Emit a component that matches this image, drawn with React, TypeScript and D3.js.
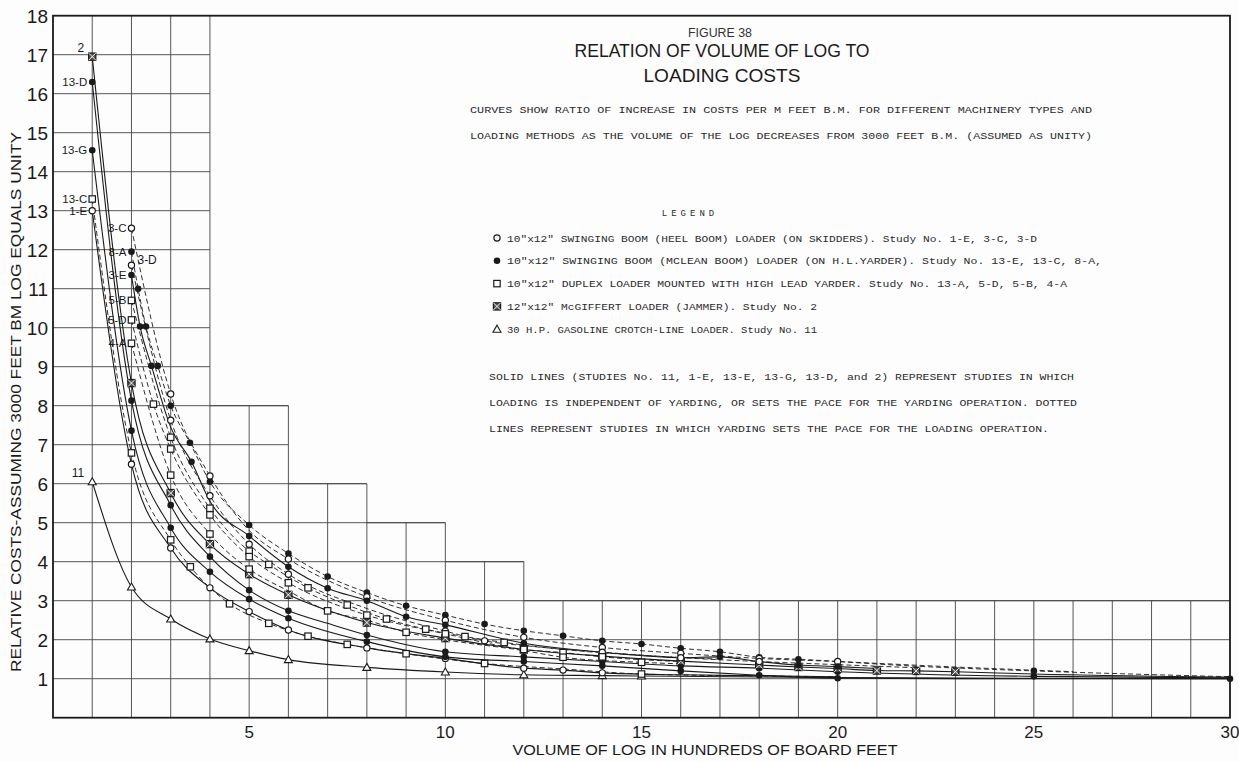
import React from "react";
import * as d3 from "d3";

// ---------- DATA ----------
const yTickLabels = [1, 2, 3, 4, 5, 6, 7, 8, 9, 10, 11, 12, 13, 14, 15, 16, 17, 18];
const xTickLabels = [5, 10, 15, 20, 25, 30];

// staircase grid: [x from, x to, top of grid]
const gridSteps: [number, number, number][] = [
  [0, 4, 18],
  [4, 6, 8],
  [6, 8, 6],
  [8, 10, 5],
  [10, 12, 4],
  [12, 30, 3],
];

// [x, value, marker(1)/no marker(0)]
const s11 = [[1, 6.05, 1], [2, 3.35, 1], [3, 2.53, 1], [4, 2.02, 1], [5, 1.72, 1], [6, 1.49, 1], [8, 1.29, 1], [10, 1.17, 1], [12, 1.1, 1], [14, 1.08, 1], [15, 1.07, 1], [20, 1.03, 0], [25, 1.01, 0], [30, 1.0, 0]];
const s1E = [[1, 13.0, 1], [2, 6.5, 1], [3, 4.35, 1], [4, 3.33, 1], [5, 2.72, 1], [6, 2.25, 1], [8, 1.79, 1], [10, 1.52, 1], [12, 1.27, 1], [13, 1.22, 1], [14, 1.15, 1], [16, 1.1, 0], [20, 1.05, 0]];
const s13C = [[1, 13.3, 1], [2, 6.79, 1], [3, 4.56, 1], [3.5, 3.87, 1], [4.5, 2.92, 1], [5.5, 2.42, 1], [6.5, 2.09, 1], [7.5, 1.88, 1], [9, 1.64, 1], [11, 1.39, 1], [13, 1.25, 0], [15, 1.12, 1], [18, 1.07, 0], [20, 1.05, 0]];
const s13G = [[1, 14.55, 1], [2, 7.36, 1], [3, 4.87, 1], [4, 3.74, 1], [5, 3.04, 1], [6, 2.55, 1], [8, 1.95, 1], [10, 1.56, 1], [12, 1.44, 1], [14, 1.33, 1], [16, 1.2, 1], [18, 1.09, 1], [20, 1.01, 1], [25, 1.0, 0], [30, 1.0, 1]];
const s13D = [[1, 16.3, 1], [2, 8.13, 1], [3, 5.45, 1], [4, 4.13, 1], [5, 3.27, 1], [6, 2.74, 1], [7, 2.42, 0], [8, 2.12, 1], [10, 1.69, 1], [12, 1.56, 1], [14, 1.44, 1], [16, 1.33, 1], [18, 1.27, 1], [20, 1.18, 1], [25, 1.06, 1], [30, 1.02, 0]];
const s2 = [[1, 16.95, 1], [2, 8.58, 1], [3, 5.76, 1], [4, 4.45, 1], [5, 3.68, 1], [6, 3.15, 1], [8, 2.44, 1], [10, 2.04, 1], [12, 1.75, 1], [14, 1.58, 1], [16, 1.45, 1], [18, 1.35, 1], [19, 1.3, 1], [20, 1.26, 1], [21, 1.21, 1], [22, 1.2, 1], [23, 1.18, 1], [25, 1.12, 0], [30, 1.04, 0]];
const s8A = [[2, 11.95, 1], [2.17, 11.0, 1], [2.37, 10.03, 1], [2.67, 9.02, 1], [3, 8.0, 1], [3.49, 7.05, 1], [4, 6.05, 1], [5, 4.94, 1], [6, 4.21, 1], [7, 3.62, 1], [8, 3.21, 1], [9, 2.87, 1], [10, 2.63, 1], [11, 2.4, 1], [12, 2.23, 1], [13, 2.1, 1], [14, 1.97, 1], [15, 1.89, 1], [16, 1.78, 1], [17, 1.69, 1], [18, 1.55, 1], [19, 1.5, 1], [22, 1.32, 0], [25, 1.2, 1], [30, 1.05, 0]];
const s3C = [[2, 12.55, 1], [3, 8.3, 1], [4, 6.2, 1], [5, 4.8, 0], [6, 4.07, 1], [8, 3.1, 1], [10, 2.5, 1], [12, 2.06, 1], [14, 1.8, 1], [16, 1.65, 1], [18, 1.52, 1], [20, 1.44, 1], [23, 1.3, 0], [26, 1.18, 0]];
const s3D = [[2, 11.6, 1], [3, 7.63, 1], [4, 5.69, 1], [5, 4.45, 1], [6, 3.68, 1], [8, 2.8, 0], [10, 2.22, 1], [11, 1.97, 1], [12, 1.85, 0], [14, 1.68, 1], [16, 1.54, 1], [18, 1.44, 1], [20, 1.36, 0], [22, 1.28, 0]];
const s3E = [[2, 11.35, 1], [2.22, 10.03, 1], [2.51, 9.02, 1], [3, 7.45, 0], [3.53, 6.56, 1], [4, 5.55, 0], [5, 4.66, 1], [6, 3.87, 1], [7, 3.32, 1], [8, 3.0, 1], [9, 2.59, 1], [10, 2.38, 1], [12, 1.91, 1], [14, 1.68, 0], [16, 1.54, 0], [17, 1.56, 1], [18, 1.44, 0], [19, 1.35, 1], [20, 1.31, 1], [21, 1.26, 0]];
const s5B = [[2, 10.7, 1], [3, 7.19, 1], [4, 5.37, 1], [5, 4.27, 1], [5.5, 3.93, 1], [6.5, 3.33, 1], [7.5, 2.89, 1], [8.5, 2.53, 1], [9.5, 2.27, 1], [10.5, 2.08, 1], [11.5, 1.93, 1], [13, 1.75, 0], [15, 1.6, 0], [17, 1.5, 0]];
const s5D = [[2, 10.2, 1], [2.56, 8.04, 1], [3, 6.89, 1], [4, 5.2, 1], [5, 4.13, 1], [6, 3.46, 1], [8, 2.63, 1], [10, 2.15, 1], [12, 1.75, 1], [13, 1.67, 1], [14, 1.56, 1], [16, 1.44, 0]];
const s4A = [[2, 9.6, 1], [3, 6.22, 1], [4, 4.71, 1], [5, 3.81, 1], [6, 3.25, 0], [7, 2.74, 1], [8, 2.5, 0], [9, 2.19, 1], [10, 2.0, 0], [12, 1.72, 0], [13, 1.55, 1], [15, 1.42, 1], [16, 1.38, 0]];

const studyData = [s11, s1E, s13C, s13G, s13D, s2, s8A, s3C, s3D, s3E, s5B, s5D, s4A];
const studyMarker = ["tri", "open", "sq", "fill", "fill", "xsq", "fill", "open", "open", "fill", "sq", "sq", "sq"];
const studyDashed = [false, false, true, false, false, false, true, true, true, false, true, true, true];
const studyLabelSide = ["ul", "l", "l", "l", "l", "ul", "l", "l", "r", "l", "l", "l", "l"];
const studyLabelText = ["11", "1-E", "13-C", "13-G", "13-D", "2", "8-A", "3-C", "3-D", "3-E", "5-B", "5-D", "4-A"];

const legendMarkers = ["open", "fill", "sq", "xsq", "tri"];
const legendTexts = [
  '10"x12" SWINGING BOOM (HEEL BOOM) LOADER (ON SKIDDERS).  Study No. 1-E, 3-C, 3-D',
  '10"x12" SWINGING BOOM (MCLEAN BOOM) LOADER (ON H.L.YARDER).  Study No. 13-E, 13-C, 8-A,',
  '10"x12" DUPLEX LOADER MOUNTED WITH HIGH LEAD YARDER.  Study No. 13-A, 5-D, 5-B, 4-A',
  '12"x12" McGIFFERT LOADER (JAMMER).  Study No. 2',
  "30 H.P. GASOLINE CROTCH-LINE LOADER.  Study No. 11",
];
const legendWidths = [530, 595, 560, 310, 310];

const noteLines = [
  "CURVES SHOW RATIO OF INCREASE IN COSTS PER M FEET B.M.  FOR DIFFERENT MACHINERY TYPES AND",
  "LOADING METHODS AS THE VOLUME OF THE LOG DECREASES FROM 3000 FEET B.M. (ASSUMED AS UNITY)",
];
const solidNote = [
  "SOLID LINES (STUDIES No. 11, 1-E, 13-E, 13-G, 13-D, and 2) REPRESENT STUDIES IN WHICH",
  "LOADING IS INDEPENDENT OF YARDING, OR SETS THE PACE FOR THE YARDING OPERATION.  DOTTED",
  "LINES REPRESENT STUDIES IN WHICH YARDING SETS THE PACE FOR THE LOADING OPERATION.",
];

// ---------- LAYOUT ----------
const W = 1239;
const H = 762;
const L = 53, R = 1230, T = 15.7, B = 717.7;
const INK = "#1a1a1a";
const SANS = "'Liberation Sans', Arial, sans-serif";
const MONO = "'Liberation Mono', 'DejaVu Sans Mono', monospace";

const x = d3.scaleLinear().domain([0, 30]).range([L, R]);
const y = d3.scaleLinear().domain([0, 18]).range([B, T]);

function Marker({ kind, cx, cy }: { kind: string; cx: number; cy: number }) {
  if (kind === "open") return <circle cx={cx} cy={cy} r={3.1} fill="#fff" stroke={INK} strokeWidth={1.2} />;
  if (kind === "fill") return <circle cx={cx} cy={cy} r={3.3} fill={INK} />;
  if (kind === "sq") return <rect x={cx - 3.2} y={cy - 3.2} width={6.4} height={6.4} fill="#fff" stroke={INK} strokeWidth={1.2} />;
  if (kind === "xsq")
    return (
      <g>
        <rect x={cx - 3.6} y={cy - 3.6} width={7.2} height={7.2} fill="#555" stroke={INK} strokeWidth={1.2} />
        <path d={`M${cx - 3.6},${cy - 3.6}L${cx + 3.6},${cy + 3.6}M${cx + 3.6},${cy - 3.6}L${cx - 3.6},${cy + 3.6}`} stroke="#fff" strokeWidth={0.9} />
      </g>
    );
  return <path d={`M${cx},${cy - 4}L${cx + 4},${cy + 3}L${cx - 4},${cy + 3}Z`} fill="#fff" stroke={INK} strokeWidth={1.1} />;
}

export default function App() {
  const line = d3
    .line<number[]>()
    .x((d) => x(d[0]))
    .y((d) => y(d[1]))
    .curve(d3.curveMonotoneX);

  const topAt = (xv: number) => {
    let t = 0;
    gridSteps.forEach(([a, b, top]) => {
      if (xv >= a && xv <= b) t = Math.max(t, top);
    });
    return t;
  };
  const rightAt = (yv: number) => {
    let r = 0;
    gridSteps.forEach(([, b, top]) => {
      if (top >= yv) r = Math.max(r, b);
    });
    return r;
  };
  const vLines = d3.range(1, 30).map((v) => ({ v, top: topAt(v) }));
  const hLines = d3.range(1, 18).map((v) => ({ v, right: rightAt(v) }));
  const stepEdges: string[] = [];
  gridSteps.forEach(([a, b, top]) => {
    if (top < 18) stepEdges.push(`M${x(a)},${y(top)}L${x(b)},${y(top)}`);
  });

  return (
    <svg width={W} height={H} style={{ position: "absolute", left: 0, top: 0, background: "#fff" }}>
      <rect x={0} y={0} width={W} height={H} fill="#fdfdfd" />
      <g stroke="#444" strokeWidth={0.9}>
        {vLines.map((g) => (
          <line key={"v" + g.v} x1={x(g.v)} x2={x(g.v)} y1={y(0)} y2={y(g.top)} />
        ))}
        {hLines.map((g) => (
          <line key={"h" + g.v} x1={x(0)} x2={x(g.right)} y1={y(g.v)} y2={y(g.v)} />
        ))}
        {stepEdges.map((d, i) => (
          <path key={"s" + i} d={d} fill="none" />
        ))}
      </g>
      <rect x={L} y={T} width={R - L} height={B - T} fill="none" stroke={INK} strokeWidth={1.8} />

      {yTickLabels.map((v) => (
        <text key={"yt" + v} x={L - 5} y={y(v) + 7} textAnchor="end" fontFamily={SANS} fontSize={19} fill={INK}>
          {v}
        </text>
      ))}
      {xTickLabels.map((v) => (
        <text key={"xt" + v} x={x(v)} y={738} textAnchor="middle" fontFamily={SANS} fontSize={17} fill={INK}>
          {v}
        </text>
      ))}
      <text x={705} y={755} textAnchor="middle" fontFamily={SANS} fontSize={15} fill={INK} textLength={385} lengthAdjust="spacingAndGlyphs">
        VOLUME OF LOG IN HUNDREDS OF BOARD FEET
      </text>
      <text
        transform="translate(21,402) rotate(-90)"
        textAnchor="middle"
        fontFamily={SANS}
        fontSize={14}
        fill={INK}
        textLength={540}
        lengthAdjust="spacingAndGlyphs"
      >
        RELATIVE COSTS-ASSUMING 3000 FEET BM LOG EQUALS UNITY
      </text>

      {studyData.map((pts, i) => (
        <path
          key={"c" + i}
          d={line(pts as number[][]) || ""}
          fill="none"
          stroke={INK}
          strokeWidth={studyDashed[i] ? 0.9 : 1.1}
          strokeDasharray={studyDashed[i] ? "5,3" : undefined}
        />
      ))}
      {studyData.map((pts, i) =>
        (pts as number[][])
          .filter((p) => p[2] === 1)
          .map((p, j) => <Marker key={"m" + i + "_" + j} kind={studyMarker[i]} cx={x(p[0])} cy={y(p[1])} />)
      )}
      {studyData.map((pts, i) => {
        const p = pts[0] as number[];
        const side = studyLabelSide[i];
        const px = x(p[0]);
        const py = y(p[1]);
        if (side === "r")
          return (
            <text key={"l" + i} x={px + 6} y={py - 1} fontFamily={SANS} fontSize={12} fill={INK}>
              {studyLabelText[i]}
            </text>
          );
        if (side === "ul")
          return (
            <text key={"l" + i} x={px - 8} y={py - 5} textAnchor="end" fontFamily={SANS} fontSize={12} fill={INK}>
              {studyLabelText[i]}
            </text>
          );
        return (
          <text key={"l" + i} x={px - 5} y={py + 4} textAnchor="end" fontFamily={SANS} fontSize={11.5} fill={INK}>
            {studyLabelText[i]}
          </text>
        );
      })}

      <text x={720} y={37} textAnchor="middle" fontFamily={SANS} fontSize={12} fill="#333" textLength={64} lengthAdjust="spacingAndGlyphs">
        FIGURE 38
      </text>
      <text x={722} y={57} textAnchor="middle" fontFamily={SANS} fontSize={19} fill={INK} textLength={295} lengthAdjust="spacingAndGlyphs">
        RELATION OF VOLUME OF LOG TO
      </text>
      <text x={722} y={82} textAnchor="middle" fontFamily={SANS} fontSize={19} fill={INK} textLength={157} lengthAdjust="spacingAndGlyphs">
        LOADING COSTS
      </text>
      {noteLines.map((t, i) => (
        <text key={"n" + i} x={470} y={113 + i * 26} fontFamily={MONO} fontSize={9} fill="#2a2a2a" textLength={622} lengthAdjust="spacingAndGlyphs">
          {t}
        </text>
      ))}
      <text x={690} y={216} textAnchor="middle" fontFamily={MONO} fontSize={9} fill="#2a2a2a" letterSpacing={4}>
        LEGEND
      </text>
      {legendTexts.map((t, i) => (
        <g key={"lg" + i}>
          <Marker kind={legendMarkers[i]} cx={497} cy={238 + i * 22.8} />
          <text x={507} y={241.5 + i * 22.8} fontFamily={MONO} fontSize={9} fill="#2a2a2a" textLength={legendWidths[i]} lengthAdjust="spacingAndGlyphs">
            {t}
          </text>
        </g>
      ))}
      {solidNote.map((t, i) => (
        <text key={"sn" + i} x={489} y={380 + i * 26} fontFamily={MONO} fontSize={9} fill="#2a2a2a" textLength={[585, 588, 560][i]} lengthAdjust="spacingAndGlyphs">
          {t}
        </text>
      ))}
    </svg>
  );
}
